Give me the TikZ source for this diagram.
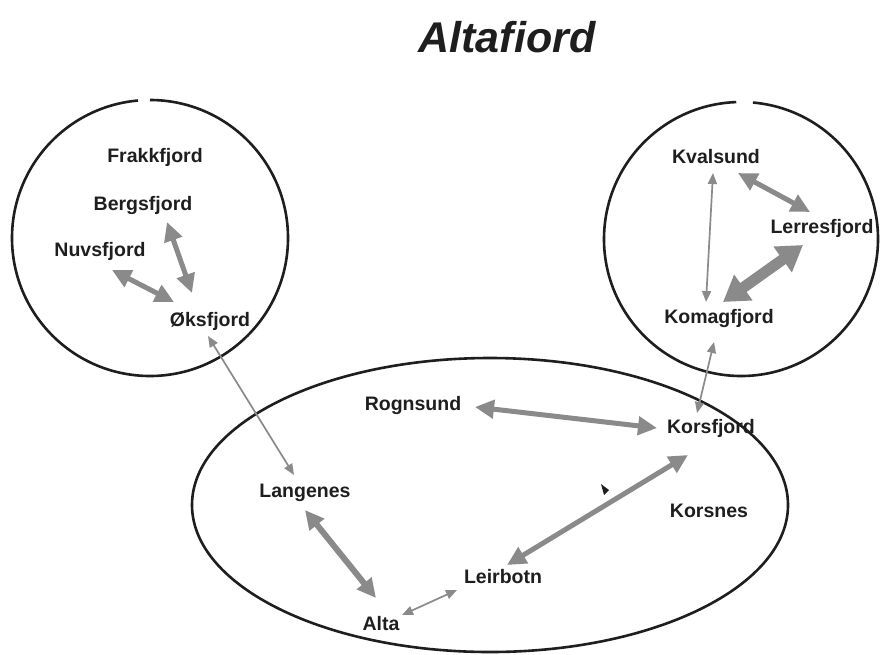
\documentclass[tikz,border=0pt]{standalone}
\usepackage{fontspec}
\setmainfont{Liberation Sans}
\usetikzlibrary{arrows.meta}
\definecolor{arrgray}{HTML}{8A8A8A}
\definecolor{ink}{HTML}{1E1E1E}
\tikzset{
  lbl/.style={font=\fontsize{19.5}{22}\selectfont\bfseries, text=ink, inner sep=0pt},
  ring/.style={draw=ink, line width=2.6pt},
  thinarr/.style={draw=arrgray, line width=1.7pt, {Triangle[length=11pt,width=9pt]}-{Triangle[length=11pt,width=9pt]}},
  medarr/.style={draw=arrgray, line width=5pt, {Triangle[length=19pt,width=18pt]}-{Triangle[length=19pt,width=18pt]}},
  bigarr/.style={draw=arrgray, line width=11pt, {Triangle[length=25pt,width=30pt]}-{Triangle[length=25pt,width=30pt]}},
}
\begin{document}
\begin{tikzpicture}[x=1pt,y=-1pt]
\useasboundingbox[fill=white] (0,0) rectangle (893,654);
% title
\node[font=\fontsize{43}{48}\selectfont\bfseries\itshape, text=ink] (title) at (507,37) {Altafiord};
% regions
\draw[ring] ([shift={(-90:138)}]150,238) arc[start angle=-90, end angle=265, radius=138];
\draw[ring] ([shift={(-85:137)}]741,239) arc[start angle=-85, end angle=268, radius=137];
\draw[ring] (490,505) ellipse [x radius=298, y radius=147];
% labels
\node[lbl] (frakk) at (155,157) {Frakkfjord};
\node[lbl] (bergs) at (143,205) {Bergsfjord};
\node[lbl] (nuvs) at (100,251) {Nuvsfjord};
\node[lbl] (oks) at (210,321) {Øksfjord};
\node[lbl] (kval) at (716,157) {Kvalsund};
\node[lbl] (lerr) at (822,228) {Lerresfjord};
\node[lbl] (komag) at (719,318) {Komagfjord};
\node[lbl] (rogn) at (413,405) {Rognsund};
\node[lbl] (korsf) at (711,428) {Korsfjord};
\node[lbl] (lang) at (305,493) {Langenes};
\node[lbl] (korsn) at (709,511) {Korsnes};
\node[lbl] (leir) at (503,577) {Leirbotn};
\node[lbl] (alta) at (381,624) {Alta};
% arrow end points
\coordinate (bergs-s) at (167,222);
\coordinate (oks-n1) at (192,293);
\coordinate (nuvs-se) at (112,270);
\coordinate (oks-nw) at (174,302);
\coordinate (oks-s) at (208,336);
\coordinate (lang-n) at (294,475);
\coordinate (kval-s1) at (713,173);
\coordinate (komag-n1) at (706,302);
\coordinate (kval-s2) at (738,173);
\coordinate (lerr-nw) at (810,212);
\coordinate (lerr-sw) at (803,245);
\coordinate (komag-n2) at (723,302);
\coordinate (komag-s) at (714,342);
\coordinate (korsf-n) at (697,413);
\coordinate (rogn-e) at (475,407);
\coordinate (korsf-w) at (657,428);
\coordinate (korsf-sw) at (688,455);
\coordinate (leir-n) at (507,565);
\coordinate (lang-s) at (305,510);
\coordinate (alta-n) at (376,598);
\coordinate (alta-e) at (402,615);
\coordinate (leir-w) at (457,590);
% connectors
\draw[medarr] (bergs-s) -- (oks-n1);
\draw[medarr] (nuvs-se) -- (oks-nw);
\draw[thinarr] (oks-s) -- (lang-n);
\draw[thinarr] (kval-s1) -- (komag-n1);
\draw[medarr] (kval-s2) -- (lerr-nw);
\draw[bigarr] (lerr-sw) -- (komag-n2);
\draw[thinarr] (komag-s) -- (korsf-n);
\draw[medarr] (rogn-e) -- (korsf-w);
\draw[medarr] (korsf-sw) -- (leir-n);
\draw[medarr, line width=6pt] (lang-s) -- (alta-n);
\draw[thinarr] (alta-e) -- (leir-w);
% stray mark
\fill[ink] (601,484) -- (609,490) -- (604,495) -- cycle;
\end{tikzpicture}
\end{document}
